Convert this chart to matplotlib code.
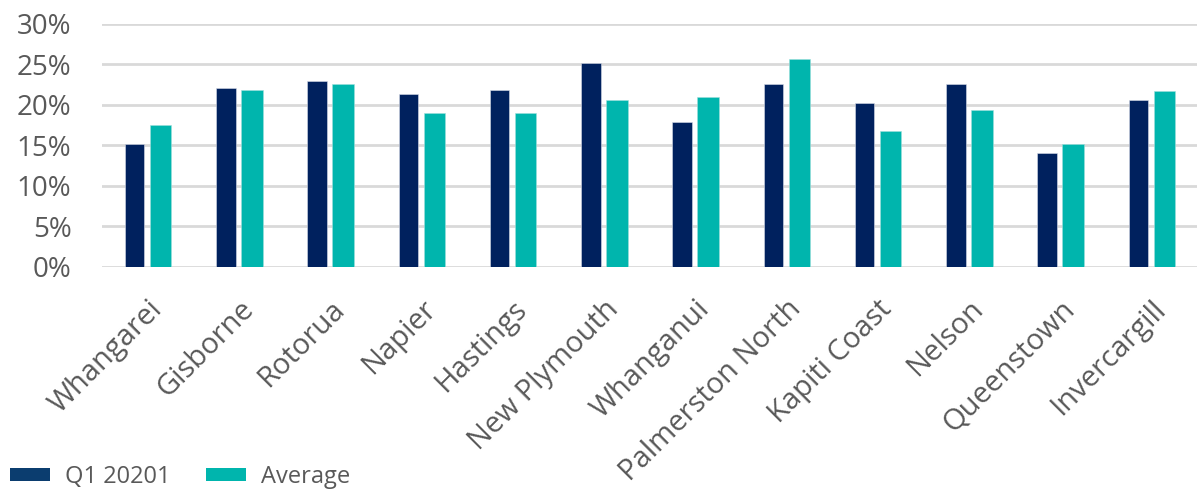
import matplotlib
matplotlib.use("Agg")
import matplotlib.pyplot as plt
import numpy as np
from matplotlib.patches import Patch
from matplotlib.ticker import FuncFormatter, MultipleLocator

categories = ["Whangarei", "Gisborne", "Rotorua", "Napier", "Hastings", "New Plymouth",
              "Whanganui", "Palmerston North", "Kapiti Coast", "Nelson", "Queenstown", "Invercargill"]
q1_2020 = [15.2, 22.1, 22.9, 21.3, 21.8, 25.2, 17.9, 22.5, 20.2, 22.5, 14.0, 20.6]
average = [17.5, 21.8, 22.5, 19.0, 19.0, 20.6, 20.95, 25.6, 16.7, 19.4, 15.2, 21.7]
series_names = ["Q1 20201", "Average"]

navy = "#00215E"
teal = "#00B5AD"
grey = "#595959"

plt.rcParams['font.family'] = ['Open Sans', 'DejaVu Sans']

fig = plt.figure(figsize=(12.02, 4.9), dpi=100)
ax = fig.add_axes([102/1202, 1 - 266.7/490, (1197-102)/1202, (266.7-23.7)/490])

x = np.arange(len(categories))
w = 0.215
gap = 0.07
ax.bar(x - (w + gap)/2, q1_2020, width=w, color=navy, edgecolor="#d8dde8", linewidth=0.4, zorder=3)
ax.bar(x + (w + gap)/2, average, width=w*1.1, color=teal, edgecolor="#9fe0dc", linewidth=0.4, zorder=3)

ax.set_xlim(-0.5, len(categories) - 0.5)
ax.set_ylim(0, 30)
ax.yaxis.set_major_locator(MultipleLocator(5))
ax.yaxis.set_major_formatter(FuncFormatter(lambda v, p: f"{int(v)}%"))
ax.grid(axis='y', color="#d9d9d9", linewidth=2, zorder=0)
for s in ax.spines.values():
    s.set_visible(False)
ax.tick_params(axis='both', length=0, colors=grey, labelsize=20)
ax.tick_params(axis='y', pad=22)
ax.set_xticks(x)
ax.set_xticklabels(categories, rotation=45, ha='right', rotation_mode='anchor',
                   fontsize=21, color=grey)
ax.tick_params(axis='x', pad=20)
for lbl in ax.get_yticklabels():
    lbl.set_color(grey)

handles = [Patch(facecolor="#0B3D6F", edgecolor="none"), Patch(facecolor=teal, edgecolor="none")]
leg = fig.legend(handles, series_names, loc='center left', bbox_to_anchor=(10/1202, 1 - 477/490), ncol=2,
                 frameon=False, fontsize=17, labelcolor=grey, handlelength=1.7, handleheight=0.5,
                 columnspacing=1.5, handletextpad=0.63, borderpad=0.0, borderaxespad=0.0)

fig.savefig("out.png", dpi=100)
